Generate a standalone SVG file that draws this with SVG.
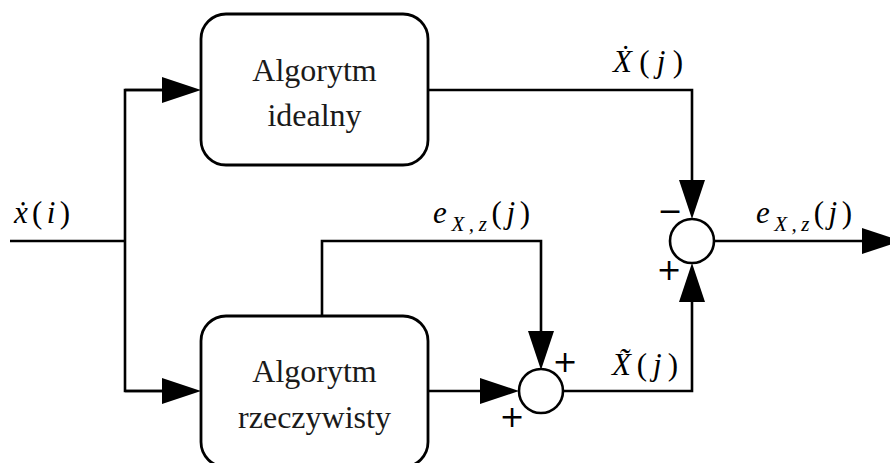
<svg xmlns="http://www.w3.org/2000/svg" width="890" height="463" viewBox="0 0 890 463">
<style>
.box{fill:#fff;stroke:#000;stroke-width:2.8}
.ln{fill:none;stroke:#000;stroke-width:2.6;stroke-linejoin:miter}
.sum{fill:#fff;stroke:#000;stroke-width:2.6}
.bt{font-family:"Liberation Serif",serif;font-size:32px;fill:#1a1a1a;text-anchor:middle}
.m{font-family:"Liberation Serif",serif;font-size:31px;fill:#000}
.it{font-style:italic}
.sub{font-size:21px;font-style:italic}
.sg{font-family:"DejaVu Sans",sans-serif;font-size:30px;text-anchor:middle;fill:#000}
</style>
<defs>
<marker id="ah" markerUnits="userSpaceOnUse" markerWidth="40" markerHeight="28" refX="10" refY="13" orient="auto" overflow="visible">
<path d="M0,0 L39,13 L0,26 Z" fill="#000"/>
</marker>
</defs>
<g id="connectors">
<path class="ln" d="M10,241 H125"/>
<path class="ln" d="M172,90 H125 V391 H172"/>
<path class="ln" d="M125,90 H172" marker-end="url(#ah)"/>
<path class="ln" d="M125,391 H172" marker-end="url(#ah)"/>
<path class="ln" d="M428,90 H692 V190" marker-end="url(#ah)"/>
<path class="ln" d="M322,316 V241 H541 V341" marker-end="url(#ah)"/>
<path class="ln" d="M428,391 H490" marker-end="url(#ah)"/>
<path class="ln" d="M563,391 H692 V292" marker-end="url(#ah)"/>
<path class="ln" d="M714,241 H872" marker-end="url(#ah)"/>
</g>
<g id="ideal">
<rect class="box" x="201" y="14" width="227" height="151" rx="25"/>
<text class="bt" x="314.5" y="81">Algorytm</text>
<text class="bt" x="314.5" y="126">idealny</text>
</g>
<g id="real">
<rect class="box" x="201" y="316" width="227" height="151" rx="25"/>
<text class="bt" x="314.5" y="382">Algorytm</text>
<text class="bt" x="314.5" y="428">rzeczywisty</text>
</g>
<g id="sum1">
<circle class="sum" cx="541" cy="391" r="22"/>
<text class="sg" x="565" y="372">+</text>
<text class="sg" x="512" y="427">+</text>
</g>
<g id="sum2">
<circle class="sum" cx="692" cy="241" r="22"/>
<text class="sg" x="670" y="221">−</text>
<text class="sg" x="669" y="280">+</text>
</g>
<g id="labels">
<text class="m" x="14" y="223" textLength="56"><tspan class="it">ẋ</tspan>(<tspan class="it">i</tspan>)</text>
<text class="m" x="613" y="72" textLength="70"><tspan class="it">Ẋ</tspan>(<tspan class="it">j</tspan>)</text>
<text class="m" x="433" y="223" textLength="97"><tspan class="it">e</tspan><tspan class="sub" dy="8">X,z</tspan><tspan dy="-8">(</tspan><tspan class="it">j</tspan>)</text>
<text class="m" x="756" y="223" textLength="96"><tspan class="it">e</tspan><tspan class="sub" dy="8">X,z</tspan><tspan dy="-8">(</tspan><tspan class="it">j</tspan>)</text>
<text class="m" x="612" y="375" textLength="66"><tspan class="it">X̃</tspan>(<tspan class="it">j</tspan>)</text>
</g>
</svg>
